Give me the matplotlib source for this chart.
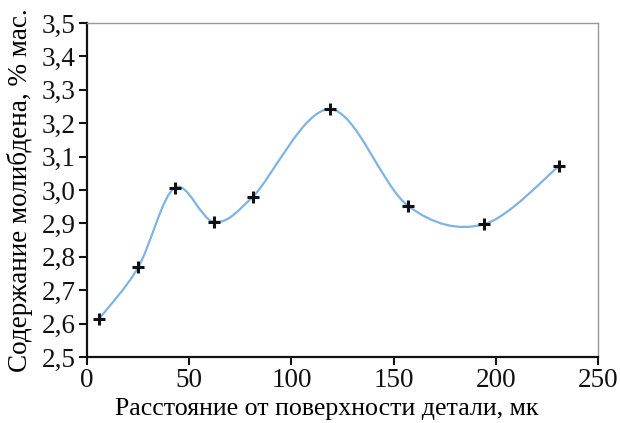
import numpy as np
import matplotlib
matplotlib.use("Agg")
import matplotlib.pyplot as plt
from matplotlib.path import Path
from matplotlib.patches import PathPatch

# data
distance = [6, 25, 43, 62, 81, 119, 157, 194, 231]
molybdenum = [2.615, 2.768, 3.007, 2.905, 2.979, 3.242, 2.953, 2.897, 3.072]
x_ticks = [0, 50, 100, 150, 200, 250]
y_ticks = [2.5, 2.6, 2.7, 2.8, 2.9, 3.0, 3.1, 3.2, 3.3, 3.4, 3.5]

plt.rcParams['font.family'] = ['Liberation Serif', 'DejaVu Serif']


def smooth_path(xs, ys):
    """
    Excel-like smoothed line: cubic Bezier through every point (Catmull-Rom).
    """
    pts = np.column_stack([xs, ys]).astype(float)
    ext = np.vstack([pts[0], pts, pts[-1]])
    verts = [pts[0]]
    codes = [Path.MOVETO]
    for i in range(len(pts) - 1):
        p0, p1, p2, p3 = ext[i], ext[i + 1], ext[i + 2], ext[i + 3]
        c1 = p1 + (p2 - p0) / 6
        c2 = p2 - (p3 - p1) / 6
        verts += [c1, c2, p2]
        codes += [Path.CURVE4] * 3
    return Path(verts, codes)


fig = plt.figure(figsize=(6.2, 4.23), dpi=100)
ax = fig.add_axes([87 / 620, 1 - 357 / 423, 511 / 620, 334 / 423])

ax.add_patch(PathPatch(smooth_path(distance, molybdenum), fill=False,
                       edgecolor='#7eb3e6', lw=1.6, zorder=2))
ax.plot(distance, molybdenum, ls='none', marker='+', ms=9, mew=2.2,
        color='#111111', zorder=3)

ax.set_xlim(0, 250)
ax.set_ylim(2.5, 3.5)
ax.set_xticks(x_ticks)
ax.set_yticks(y_ticks)
ax.set_xticklabels([str(t) for t in x_ticks])
ax.set_yticklabels([f'{t:.1f}'.replace('.', ',') for t in y_ticks])
ax.tick_params(labelsize=19.5, length=6, width=1.5, direction='out', pad=2,
               colors='#111111')

for side in ('left', 'bottom'):
    ax.spines[side].set_linewidth(1.6)
    ax.spines[side].set_color('#111111')
for side in ('top', 'right'):
    ax.spines[side].set_linewidth(1.0)
    ax.spines[side].set_color('#999999')

ax.set_xlabel('Расстояние от поверхности детали, мк', fontsize=18.6)
ax.set_ylabel('Содержание молибдена, % мас.', fontsize=19.5)
ax.xaxis.set_label_coords(0.469, -0.122)
ax.yaxis.set_label_coords(-0.105, 0.5)

fig.savefig('out.png', dpi=100)
